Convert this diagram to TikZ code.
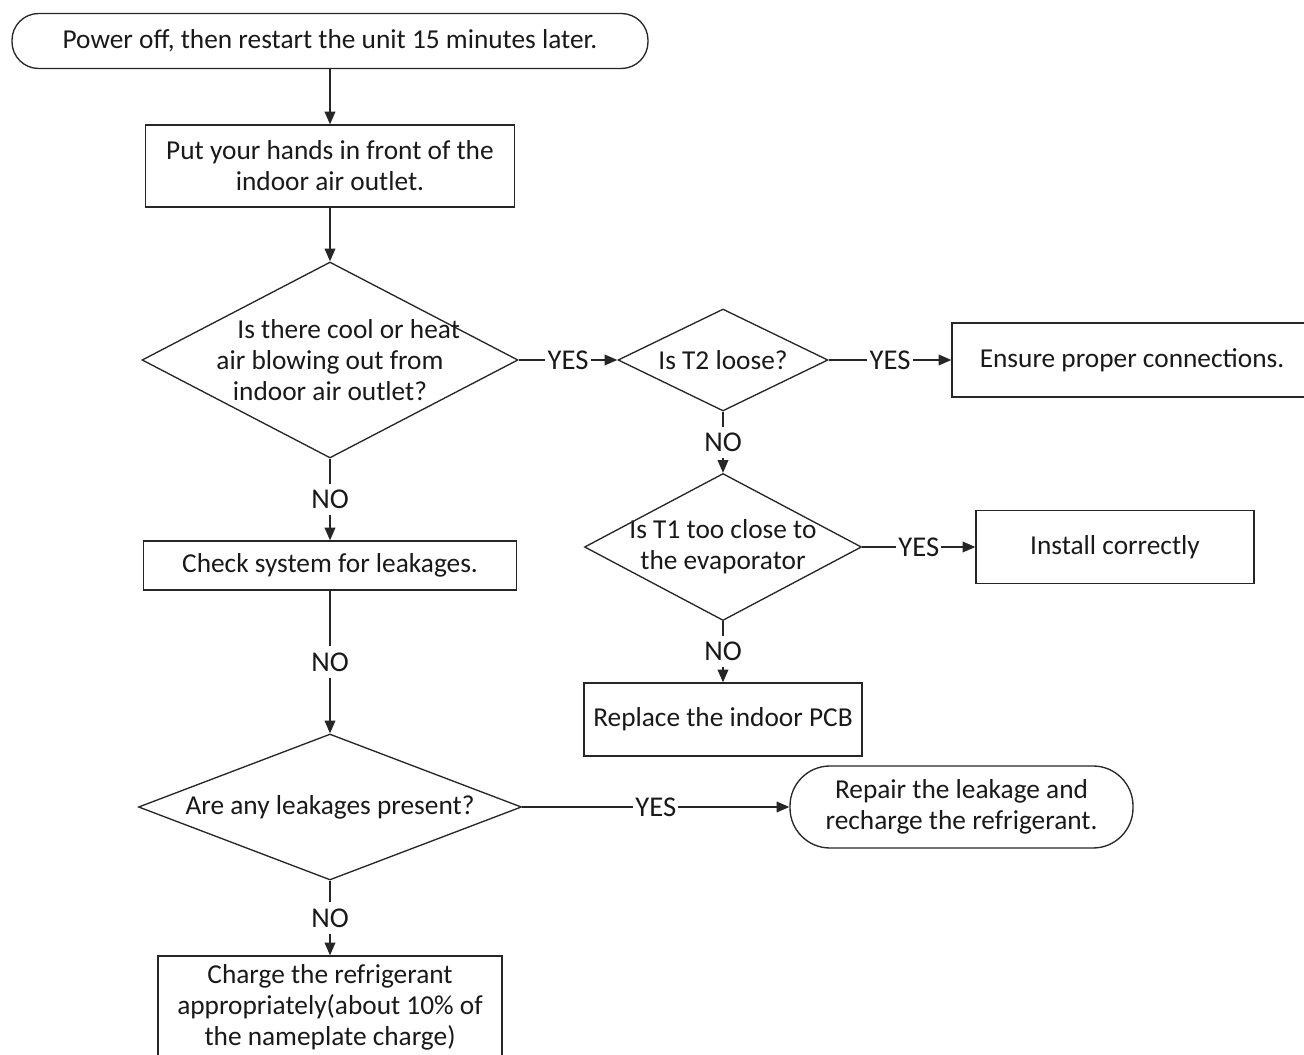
\documentclass[tikz,border=0pt]{standalone}
\usepackage{fontspec}
\setmainfont{Carlito}
\usetikzlibrary{shapes.geometric,arrows.meta}
\begin{document}
\begin{tikzpicture}[x=0.75pt,y=-0.75pt,
 every node/.style={font=\fontsize{20.5}{23.3}\selectfont, text=black!90},
 box/.style={draw=black!85, line width=1pt, inner sep=0pt, align=center, rectangle},
 term/.style={box},
 dia/.style={draw=black!85, shape=diamond, inner sep=0pt, line width=1pt},
 txt/.style={align=center, inner sep=0pt},
 seg/.style={draw=black!85, line width=1pt},
 flow/.style={seg, -{Triangle[length=9.5pt,width=8pt]}},
 lab/.style={inner xsep=1.5pt, inner ysep=1pt, font=\fontsize{21.5}{24}\selectfont},
 vlab/.style={lab, inner ysep=4.5pt}]
\useasboundingbox (0,0) rectangle (1304,1055);
\node[term, minimum width=636*0.75pt, minimum height=55*0.75pt, rounded corners=20pt] (start) at (330,41) {Power off, then restart the unit 15 minutes later.};
\node[box, minimum width=369*0.75pt, minimum height=82*0.75pt] (hands) at (330,166) {Put your hands in front of the\\indoor air outlet.};
\node[dia, minimum width=376*0.75pt, minimum height=196*0.75pt] (d1) at (330,360) {};
\node[txt] (d1t) at (d1) {\hspace*{28pt}Is there cool or heat\\air blowing out from\\indoor air outlet?};
\node[dia, minimum width=210*0.75pt, minimum height=102*0.75pt] (d2) at (723,360) {};
\node[txt] (d2t) at (d2) {Is T2 loose?};
\node[box, minimum width=360*0.75pt, minimum height=74*0.75pt] (ensure) at (1132,360) {Ensure proper connections.};
\node[dia, minimum width=277*0.75pt, minimum height=147*0.75pt] (d3) at (723,547) {};
\node[txt] (d3t) at (d3) {Is T1 too close to\\the evaporator};
\node[box, minimum width=278*0.75pt, minimum height=73*0.75pt] (install) at (1115,547) {Install correctly};
\node[box, minimum width=278*0.75pt, minimum height=73*0.75pt] (pcb) at (723,719.5) {Replace the indoor PCB};
\node[box, minimum width=373*0.75pt, minimum height=49*0.75pt] (check) at (330,565.5) {Check system for leakages.};
\node[dia, minimum width=383*0.75pt, minimum height=146*0.75pt] (d4) at (330,807) {};
\node[txt] (d4t) at (d4) {Are any leakages present?};
\node[term, minimum width=343*0.75pt, minimum height=82*0.75pt, rounded corners=30pt] (repair) at (961.5,807) {Repair the leakage and\\recharge the refrigerant.};
\node[box, minimum width=344*0.75pt, minimum height=102*0.75pt] (charge) at (330,1007) {Charge the refrigerant\\appropriately(about 10\% of\\the nameplate charge)};
% labels placed midway between shapes
\path (d1) -- node[lab] (y1) {YES} (d2);
\path (d2) -- node[lab] (y2) {YES} (ensure);
\path (d2) -- node[vlab] (n2) {NO} (d3);
\path (d3) -- node[lab] (y3) {YES} (install);
\path (d3) -- node[vlab] (n3) {NO} (pcb);
\path (d1) -- node[vlab] (n1) {NO} (check);
\path (check) -- node[vlab] (nc) {NO} (d4);
\path (d4) -- node[lab] (y4) {YES} (repair);
\path (d4) -- node[vlab] (n4) {NO} (charge);
% connectors
\draw[flow] (start) -- (hands);
\draw[flow] (hands) -- (d1);
\draw[seg] (d1) -- (y1); \draw[flow] (y1) -- (d2);
\draw[seg] (d2) -- (y2); \draw[flow] (y2) -- (ensure);
\draw[seg] (d2) -- (n2); \draw[flow] (n2) -- (d3);
\draw[seg] (d3) -- (y3); \draw[flow] (y3) -- (install);
\draw[seg] (d3) -- (n3); \draw[flow] (n3) -- (pcb);
\draw[seg] (d1) -- (n1); \draw[flow] (n1) -- (check);
\draw[seg] (check) -- (nc); \draw[flow] (nc) -- (d4);
\draw[seg] (d4) -- (y4); \draw[flow] (y4) -- (repair);
\draw[seg] (d4) -- (n4); \draw[flow] (n4) -- (charge);
\end{tikzpicture}
\end{document}
